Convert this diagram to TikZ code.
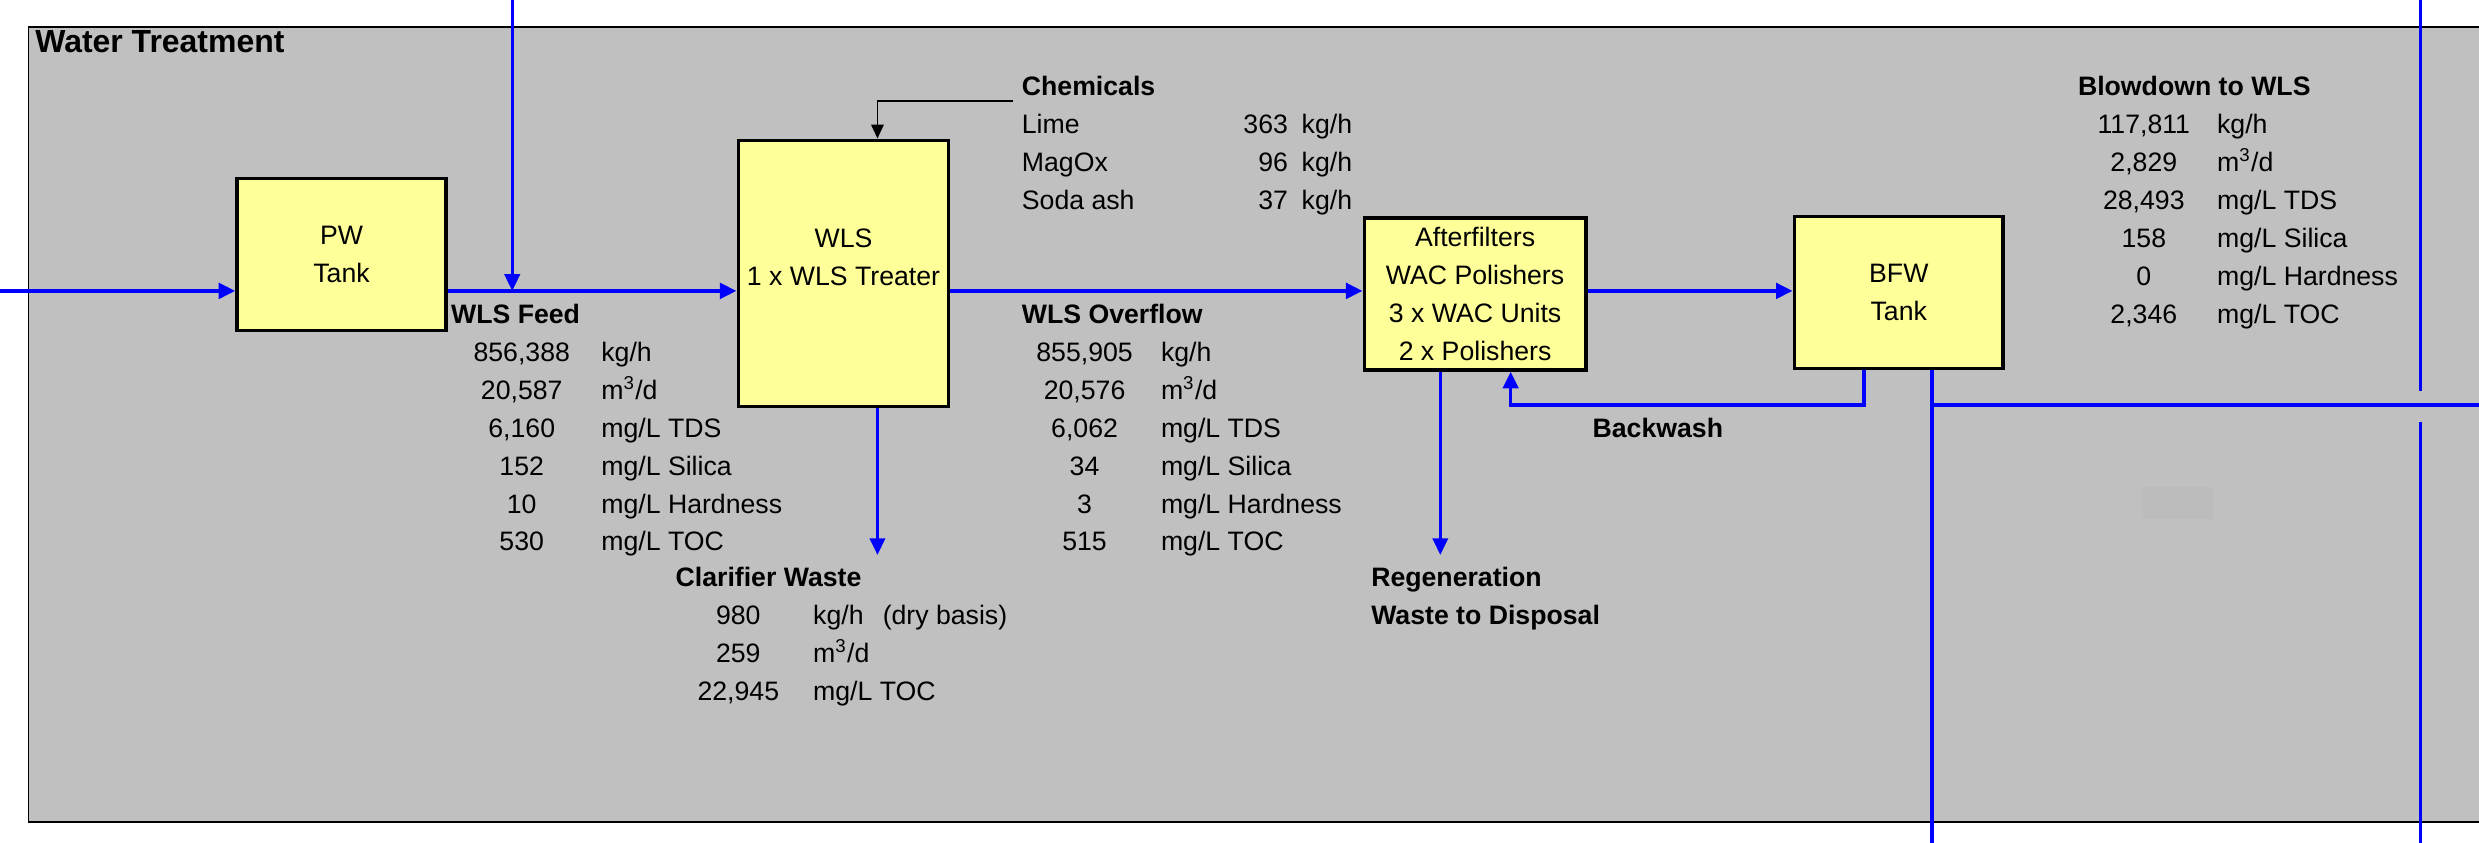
\documentclass[tikz,border=0pt]{standalone}
\usepackage{fontspec}
\setmainfont{Liberation Sans}
\usepackage{tikz}
\usetikzlibrary{arrows.meta, calc}
\definecolor{silver}{RGB}{192,192,192}
\definecolor{paleyellow}{RGB}{255,255,153}
\definecolor{pipeblue}{RGB}{0,0,255}
\definecolor{patchgray}{RGB}{188,188,188}
\newcommand{\wtfont}{\fontsize{9.6}{13.66}\selectfont}
\newcommand{\cubic}{m\textsuperscript{3}/d}
\tikzset{
    unitbox/.style={draw=black,fill=paleyellow,line width=1.3pt,inner sep=0pt,align=center},
    txt/.style={inner sep=0pt,align=center},
    hdtext/.style={font=\wtfont\bfseries,anchor=base west,inner sep=0pt},
    valtext/.style={anchor=base,inner sep=0pt},
    uomtext/.style={anchor=base west,inner sep=0pt},
    pipe/.style={draw=pipeblue,line width=1.7pt},
    tube/.style={draw=pipeblue,line width=1.1pt},
    flowtip/.style={-{Triangle[length=6pt,width=5.5pt]}},
    dose/.style={draw=black,line width=0.6pt,-{Triangle[length=5pt,width=4.5pt]}},
    mainflow/.style={
        every edge/.style={draw=pipeblue,line width=1.7pt,-{Triangle[length=6pt,width=5.5pt]}},
    },
}
% name, value x, unit x, first baseline, rows
\newcommand{\streamrows}[5]{
    \foreach \v/\u [count=\i] in {#5} {
        \node[valtext] (#1v\i) at (#2,#4+24*\i-24) {\v};
        \node[uomtext] (#1u\i) at (#3,#4+24*\i-24) {\u};
    }
}

\begin{document}
\begin{tikzpicture}[x=0.02cm, y=-0.02cm, font=\wtfont]
\useasboundingbox (0,0) rectangle (1568,533);
\fill[silver] (18,17) rectangle (1568,520);
\draw[line width=0.5pt] (1568,17) -- (18,17) -- (18,520) -- (1568,520);
\fill[patchgray] (1355,308) rectangle (1400,328);
\node[hdtext, font=\fontsize{11.5}{13.8}\selectfont\bfseries] (title) at (22,33.5) {Water Treatment};

% units
\node[unitbox, minimum width=2.64cm, minimum height=1.92cm] (pw) at (216,161) {PW\\Tank};
\node[unitbox, minimum width=2.66cm, minimum height=3.37cm] (wls) at (533.5,173) {};
\node[txt] (wlstxt) at (533.5,163) {WLS\\1 x WLS Treater};
\node[unitbox, minimum width=2.8cm, minimum height=1.92cm] (af) at (933,186)
    {Afterfilters\\WAC Polishers\\3 x WAC Units\\2 x Polishers};
\node[unitbox, minimum width=2.64cm, minimum height=1.92cm] (bfw) at (1201,185) {BFW\\Tank};

% chemicals
\node[hdtext] (chem) at (646,60.4) {Chemicals};
\foreach \n/\m [count=\i] in {Lime/363, MagOx/96, Soda ash/37} {
    \node[uomtext] (chemn\i) at (646,60.4+24*\i) {\n};
    \node[valtext, anchor=base east] (chemm\i) at (815,60.4+24*\i) {\m};
    \node[uomtext] (chemu\i) at (823,60.4+24*\i) {kg/h};
}

% streams
\node[hdtext] (feed) at (285,204.5) {WLS Feed};
\streamrows{feed}{330}{380}{228.5}{{856,388}/{kg/h}, {20,587}/{\cubic}, {6,160}/{mg/L TDS},
    152/{mg/L Silica}, 10/{mg/L Hardness}, 530/{mg/L TOC}}
\node[hdtext] (ovfl) at (646,204.5) {WLS Overflow};
\streamrows{ovfl}{686}{734}{228.5}{{855,905}/{kg/h}, {20,576}/{\cubic}, {6,062}/{mg/L TDS},
    34/{mg/L Silica}, 3/{mg/L Hardness}, 515/{mg/L TOC}}
\node[hdtext] (clar) at (427,371) {Clarifier Waste};
\streamrows{clar}{467}{514}{395}{980/{kg/h}, 259/{\cubic}, {22,945}/{mg/L TOC}}
\node[uomtext] (clardry) at (558,395) {(dry basis)};
\node[hdtext] (bd) at (1314,60.4) {Blowdown to WLS};
\streamrows{bd}{1356}{1402}{84.4}{{117,811}/{kg/h}, {2,829}/{\cubic}, {28,493}/{mg/L TDS},
    158/{mg/L Silica}, 0/{mg/L Hardness}, {2,346}/{mg/L TOC}}
\node[hdtext] (regen) at (867,371) {Regeneration};
\node[hdtext] (regen2) at (867,395) {Waste to Disposal};
\node[hdtext] (bw) at (1007,277) {Backwash};

% connectors
\coordinate (inL) at (0,184);
\coordinate (feedtop) at (324,0);
\coordinate (chemsrc) at (641,64);
\coordinate (clarend) at (555,351);
\coordinate (regenend) at (911,351);
\coordinate (bwout) at (1179,256);
\coordinate (bwin) at (955.5,256);
\coordinate (bdx) at (1222,256);
\coordinate (bdbot) at (1222,533);
\coordinate (bdend) at (1568,256);
\coordinate (rtop) at (1531,0);
\coordinate (rgapa) at (1531,247);
\coordinate (rgapb) at (1531,267);
\coordinate (rbot) at (1531,533);
\path[mainflow]
    (inL) edge (pw.west |- inL)
    (pw.east |- inL) edge (wls.west |- inL)
    (wls.east |- inL) edge (af.west |- inL)
    (af.east |- inL) edge (bfw.west |- inL)
;
\draw[tube, flowtip] (feedtop) -- (feedtop |- inL);
\draw[dose] (chemsrc) -| ($(wls.north)+(21.5,0)$);
\draw[tube, flowtip] (wls.south -| clarend) -- (clarend);
\draw[tube, flowtip] (af.south -| regenend) -- (regenend);
\draw[tube, line width=1.3pt, flowtip] (bfw.south -| bwout) -- (bwout) -- (bwin) -- (af.south -| bwin);
\draw[tube] (bfw.south -| bdx) -- (bdbot);
\draw[tube, line width=1.3pt] (bdx) -- (bdend);
\draw[tube] (rtop) -- (rgapa);
\draw[tube] (rgapb) -- (rbot);
\end{tikzpicture}
\end{document}
